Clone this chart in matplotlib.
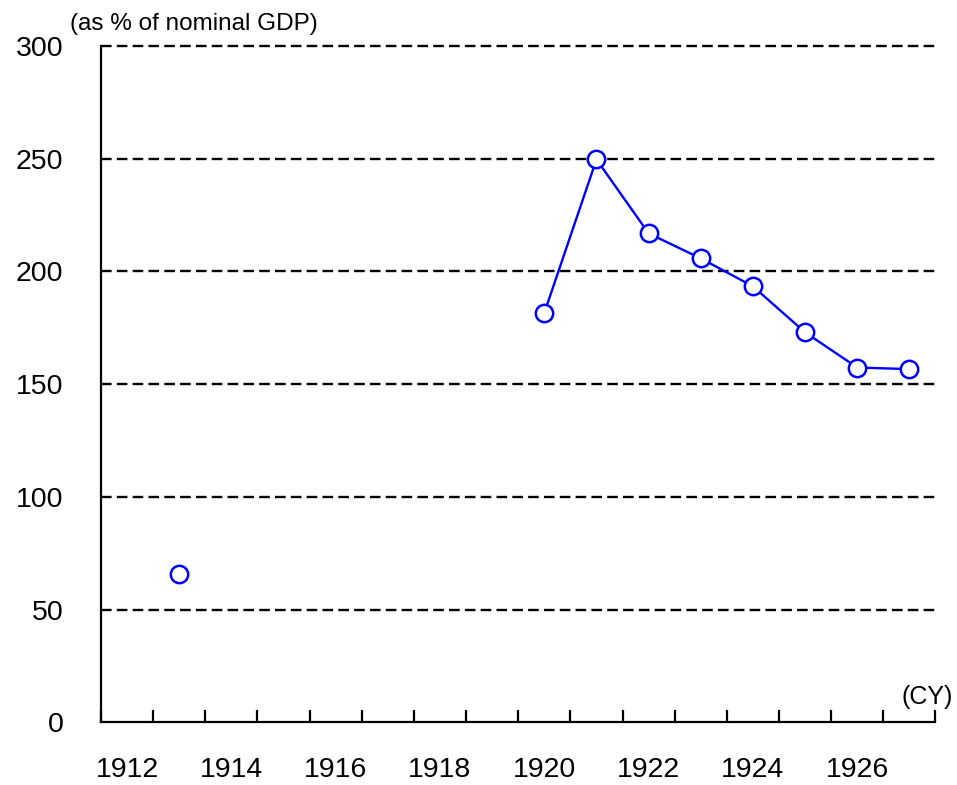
import numpy as np
import matplotlib
matplotlib.use("Agg")
import matplotlib.pyplot as plt

years = list(range(1912, 1928))
values = [np.nan, 65.7, np.nan, np.nan, np.nan, np.nan, np.nan, np.nan,
          181.6, 249.7, 216.9, 205.8, 193.4, 173.0, 157.4, 156.7]
yticks = [0, 50, 100, 150, 200, 250, 300]
xlabels = [str(y) if (y % 2 == 0) else "" for y in years]

plt.rcParams['font.family'] = ['Liberation Sans', 'DejaVu Sans']

fig = plt.figure(figsize=(9.57, 7.85), dpi=100)
ax = fig.add_axes([0.1055, 0.0797, 0.872, 0.8617])

x = np.arange(len(years))
ax.plot(x, values, color='#0000ff', lw=1.7, marker='o', markersize=12.5,
        markerfacecolor='white', markeredgecolor='#0000ff', markeredgewidth=1.8,
        zorder=3)

ax.set_xlim(-0.5, len(years) - 0.5)
ax.set_ylim(0, 300)

for v in yticks[1:]:
    ax.axhline(v, color='black', lw=1.7, ls=(0, (4.5, 2.2)), zorder=1, clip_on=False)

ax.set_yticks(yticks)
ax.set_yticklabels([str(v) for v in yticks], fontsize=20.5)
ax.tick_params(axis='y', length=0, pad=27)

ax.set_xticks(x)
ax.set_xticklabels(xlabels, fontsize=20.5)
ax.tick_params(axis='x', length=0, pad=25)
ax.set_xticks(np.arange(len(years) + 1) - 0.5, minor=True)
ax.tick_params(axis='x', which='minor', direction='in', length=9, width=1.6)

for s in ['top', 'right']:
    ax.spines[s].set_visible(False)
for s in ['left', 'bottom']:
    ax.spines[s].set_linewidth(1.6)

fig.text(0.073, 0.970, "(as % of nominal GDP)", fontsize=17.5, ha='left', va='center')
fig.text(0.996, 0.112, "(CY)", fontsize=18, ha='right', va='center')

fig.savefig("out.png", dpi=100)
